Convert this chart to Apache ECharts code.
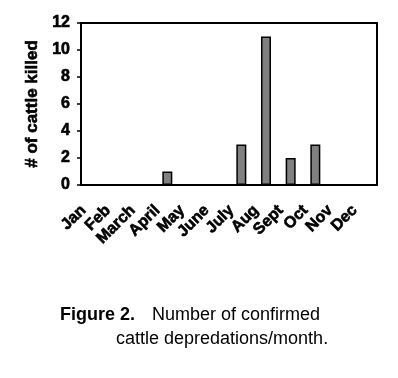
<!DOCTYPE html>
<html>
<head>
<meta charset="utf-8">
<script src="https://cdn.jsdelivr.net/npm/echarts@6/dist/echarts.min.js"></script>
<style>
  html, body { margin: 0; padding: 0; background: #fff; }
  #chart { width: 398px; height: 378px; }
</style>
</head>
<body>
<div id="chart"></div>
<script>
const months = ['Jan', 'Feb', 'March', 'April', 'May', 'June', 'July', 'Aug', 'Sept', 'Oct', 'Nov', 'Dec']
const killed = [0, 0, 0, 1, 0, 0, 3, 11, 2, 3, 0, 0]
const yTicks = { min: 0, max: 12, interval: 2 }

const chart = echarts.init(document.getElementById('chart'))
const boldFont = '"Liberation Sans", Arial, sans-serif'
// heavier look, the original labels are close to Arial Black
const heavy = { textBorderColor: '#000', textBorderWidth: 0.6 }

const option = {
  animation: false,
  grid: {
    left: 81,
    right: 21,
    top: 23,
    bottom: 193,
    show: true,
    borderColor: '#000',
    borderWidth: 2,
  },
  xAxis: {
    type: 'category',
    data: months,
    axisLine: { lineStyle: { color: '#000', width: 2 } },
    axisTick: { length: 4, lineStyle: { color: '#000', width: 1.5 } },
    axisLabel: {
      interval: 0,
      rotate: 45,
      margin: 13,
      padding: [0, 14, 0, 0],
      color: '#000',
      fontFamily: boldFont,
      fontWeight: 'bold',
      fontSize: 16,
      ...heavy,
    },
  },
  yAxis: {
    type: 'value',
    min: yTicks.min,
    max: yTicks.max,
    interval: yTicks.interval,
    name: '# of cattle killed',
    nameLocation: 'middle',
    nameGap: 40,
    nameTextStyle: {
      color: '#000',
      fontFamily: boldFont,
      fontWeight: 'bold',
      fontSize: 17,
      ...heavy,
    },
    axisLine: { show: true, lineStyle: { color: '#000', width: 2 } },
    axisTick: { show: true, length: 4, lineStyle: { color: '#000', width: 1.5 } },
    splitLine: { show: false },
    axisLabel: {
      margin: 11,
      color: '#000',
      fontFamily: boldFont,
      fontWeight: 'bold',
      fontSize: 16,
      ...heavy,
    },
  },
  series: [
    {
      type: 'bar',
      data: killed,
      barWidth: 10,
      itemStyle: { color: '#808080', borderColor: '#000', borderWidth: 1.5 },
    },
  ],
  graphic: [
    {
      type: 'text',
      left: 60,
      top: 306,
      style: { text: 'Figure 2.', font: 'bold 18px "Liberation Sans", Arial, sans-serif', fill: '#000' },
    },
    {
      type: 'text',
      left: 152,
      top: 306,
      style: { text: 'Number of confirmed', font: '18px "Liberation Sans", Arial, sans-serif', fill: '#000' },
    },
    {
      type: 'text',
      left: 116,
      top: 330,
      style: { text: 'cattle depredations/month.', font: '18px "Liberation Sans", Arial, sans-serif', fill: '#000' },
    },
  ],
}
chart.setOption(option)
</script>
</body>
</html>
